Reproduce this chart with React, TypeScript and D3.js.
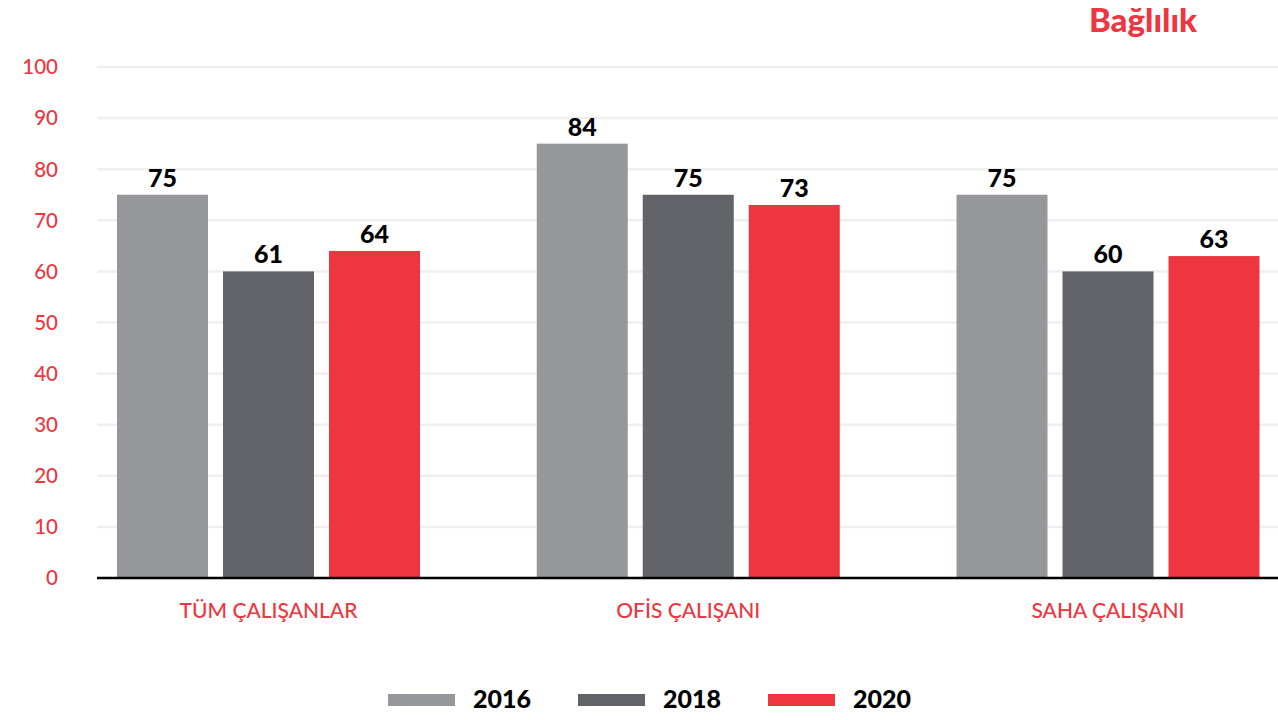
import React from "react";
import * as d3 from "d3";

const categories = ["TÜM ÇALIŞANLAR", "OFİS ÇALIŞANI", "SAHA ÇALIŞANI"];
const years = ["2016", "2018", "2020"];
// bar heights as drawn
const values2016 = [75, 85, 75];
const values2018 = [60, 75, 60];
const values2020 = [64, 73, 63];
// value labels as printed
const labels2016 = ["75", "84", "75"];
const labels2018 = ["61", "75", "60"];
const labels2020 = ["64", "73", "63"];
const yTicks = [0, 10, 20, 30, 40, 50, 60, 70, 80, 90, 100];
const title = "Bağlılık";

const colors = ["#96979b", "#636469", "#ee3640"];
const RED = "#ee3640";

const W = 1278;
const H = 720;

export default function App() {
  const series = [values2016, values2018, values2020];
  const labels = [labels2016, labels2018, labels2020];

  const y = d3.scaleLinear().domain([0, 100]).range([578, 67]);
  const x0 = d3.scaleBand<string>().domain(categories).range([58.625, 1317.875]).paddingInner(0).paddingOuter(0);
  const x1 = d3.scaleBand<string>().domain(years).range([-151.5, 151.5]).paddingInner(15 / 106).paddingOuter(0);

  const font = "Lato, 'Open Sans', sans-serif";

  return (
    <div style={{ position: "fixed", left: 0, top: 0, width: W, height: H, background: "#fff" }}>
      <svg width={W} height={H} style={{ display: "block" }}>
        {/* gridlines */}
        {yTicks.filter((t) => t > 0).map((t) => (
          <line key={t} x1={97} x2={W} y1={y(t)} y2={y(t)} stroke="#efefef" strokeWidth={2.5} />
        ))}
        {/* y tick labels */}
        {yTicks.map((t) => (
          <text key={t} x={58} y={y(t)} dy="0.36em" textAnchor="end" fill={RED} fontFamily={font} fontSize={20.5} fontWeight={500}>
            {t}
          </text>
        ))}
        {/* bars */}
        {categories.map((c, ci) => (
          <g key={c} transform={`translate(${x0(c)! + x0.bandwidth() / 2},0)`}>
            {years.map((yr, si) => {
              const v = series[si][ci];
              const bx = x1(yr)!;
              return (
                <g key={yr}>
                  <rect x={bx} y={y(v)} width={x1.bandwidth()} height={y(0) - y(v)} fill={colors[si]} />
                  <text x={bx + x1.bandwidth() / 2} y={y(v) - 8} textAnchor="middle" fill="#000" fontFamily={font} fontSize={25} fontWeight={900}>
                    {labels[si][ci]}
                  </text>
                </g>
              );
            })}
            <text x={0} y={618} textAnchor="middle" fill={RED} fontFamily={font} fontSize={21} fontWeight={500}>
              {c}
            </text>
          </g>
        ))}
        {/* axis line */}
        <line x1={97} x2={W} y1={y(0)} y2={y(0)} stroke="#000" strokeWidth={2.5} />
        {/* legend */}
        {years.map((yr, i) => (
          <g key={yr} transform={`translate(${388 + i * 190},0)`}>
            <rect x={0} y={694} width={67} height={12} fill={colors[i]} />
            <text x={85} y={708} fill="#000" fontFamily={font} fontSize={25} fontWeight={900}>
              {yr}
            </text>
          </g>
        ))}
        {/* title */}
        <text x={1197} y={32} textAnchor="end" fill={RED} fontFamily={font} fontSize={33} fontWeight={900}>
          {title}
        </text>
      </svg>
    </div>
  );
}
